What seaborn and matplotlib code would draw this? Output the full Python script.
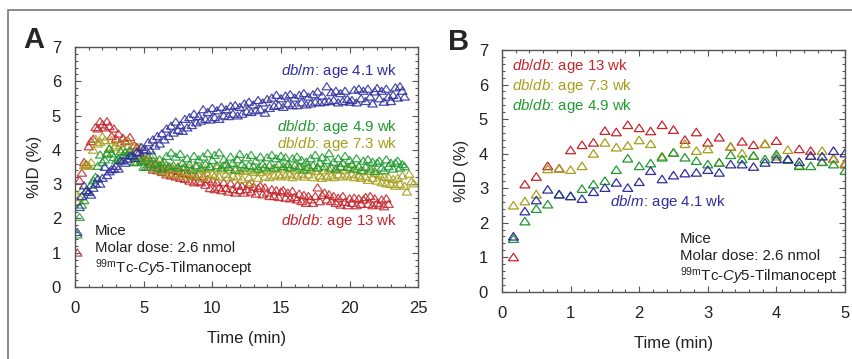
"""
Cinética de %ID do 99mTc-Cy5-Tilmanocept em camundongos db/db e db/m
"""

import numpy as np
import pandas as pd
import matplotlib

matplotlib.use("Agg")
import matplotlib.pyplot as plt
import seaborn as sns
from matplotlib.patches import Rectangle
from matplotlib.ticker import MultipleLocator

# intervalo entre quadros da aquisição dinâmica (s)
FRAME_SEC = 10

GRUPOS = ["db/db 13 wk", "db/db 7.3 wk", "db/db 4.9 wk", "db/m 4.1 wk"]
CORES = {
    "db/db 13 wk": "#c4262c",
    "db/db 7.3 wk": "#a59f1c",
    "db/db 4.9 wk": "#1f9a30",
    "db/m 4.1 wk": "#2e2e9e",
}

# primeiros 5 min (painel B e início do painel A)
red_13wk_early = [
    1.00, 3.11, 3.33, 3.64, 3.57, 4.10, 4.25, 4.32, 4.66, 4.62,
    4.83, 4.74, 4.65, 4.83, 4.69, 4.40, 4.62, 4.32, 4.47, 4.20,
    4.35, 4.25, 4.28, 4.37, 3.84, 4.13, 4.08, 3.76, 3.86, 3.69,
]
olive_73wk_early = [
    2.50, 2.62, 2.82, 3.55, 3.57, 3.53, 3.64, 4.00, 4.32, 4.18,
    4.23, 4.39, 4.28, 3.92, 4.03, 4.28, 4.08, 4.13, 3.74, 4.20,
    4.01, 3.94, 4.28, 3.92, 4.11, 3.66, 3.94, 4.08, 3.84, 3.72,
]
green_49wk_early = [
    1.53, 2.04, 2.40, 2.53, 2.82, 2.77, 2.98, 3.11, 3.21, 3.53,
    3.86, 3.64, 3.72, 3.89, 4.03, 3.89, 3.79, 3.69, 3.74, 3.96,
    3.84, 3.94, 3.84, 3.98, 3.82, 3.64, 3.64, 3.76, 3.69, 3.50,
]
blue_dbm_early = [
    1.60, 2.33, 2.65, 2.96, 2.82, 2.77, 2.69, 2.89, 3.01, 3.16,
    3.01, 3.18, 3.50, 3.26, 3.37, 3.43, 3.45, 3.53, 3.45, 3.69,
    3.69, 3.62, 3.74, 3.84, 3.84, 3.76, 3.94, 3.92, 4.08, 4.01,
]

# de 5 min em diante (só painel A), uma linha por minuto
red_13wk_late = [
    3.70, 3.50, 3.65, 3.42, 3.60, 3.40,
    3.55, 3.35, 3.48, 3.28, 3.45, 3.25,
    3.42, 3.22, 3.38, 3.18, 3.32, 3.15,
    3.32, 3.10, 3.28, 3.05, 3.22, 3.08,
    3.05, 3.22, 2.98, 3.15, 2.88, 3.10,
    2.85, 3.05, 2.90, 2.82, 3.05, 2.88,
    2.78, 3.02, 2.85, 2.75, 2.98, 2.82,
    2.95, 2.75, 2.85, 3.00, 2.78, 2.92,
    2.72, 2.88, 2.95, 2.70, 2.90, 2.75,
    2.65, 2.85, 2.65, 2.82, 2.62, 2.78,
    2.82, 2.60, 2.75, 2.58, 2.80, 2.62,
    2.55, 2.72, 2.50, 2.68, 2.45, 2.65,
    2.55, 2.45, 2.65, 2.90, 2.50, 2.68,
    2.75, 2.55, 2.70, 2.50, 2.65, 2.45,
    2.60, 2.40, 2.65, 2.48, 2.38, 2.58,
    2.45, 2.60, 2.38, 2.58, 2.42, 2.55,
    2.62, 2.42, 2.65, 2.38, 2.58, 2.45,
    2.40, 2.55, 2.35, 2.58, 2.42,
]
olive_73wk_late = [
    3.75, 3.58, 3.50, 3.72, 3.45, 3.62,
    3.42, 3.60, 3.38, 3.55, 3.32, 3.50,
    3.45, 3.30, 3.52, 3.28, 3.48, 3.35,
    3.25, 3.48, 3.32, 3.22, 3.50, 3.28,
    3.42, 3.20, 3.45, 3.28, 3.50, 3.30,
    3.25, 3.48, 3.22, 3.42, 3.55, 3.30,
    3.20, 3.42, 3.25, 3.48, 3.22, 3.40,
    3.15, 3.38, 3.42, 3.20, 3.05, 3.35,
    3.40, 3.18, 3.35, 3.45, 3.22, 3.40,
    3.20, 3.45, 3.25, 3.48, 3.28, 3.22,
    3.45, 3.25, 3.50, 3.30, 3.20, 3.42,
    3.25, 3.48, 3.30, 3.22, 3.45, 3.28,
    3.42, 3.20, 3.38, 3.50, 3.25, 3.18,
    3.40, 3.22, 3.45, 3.25, 3.20, 3.42,
    3.28, 3.50, 3.22, 3.42, 3.25, 3.48,
    3.30, 3.20, 3.45, 3.25, 3.18, 3.40,
    3.22, 3.12, 3.38, 3.18, 3.32, 3.10,
    3.28, 3.05, 3.22, 3.02, 3.20, 3.00,
    3.15, 2.95, 3.18, 3.00, 3.25, 2.95,
    2.78, 3.30, 3.08, 3.02,
]
green_49wk_late = [
    3.50, 3.78, 3.58, 3.85, 3.60, 3.48,
    3.72, 3.45, 3.65, 3.82, 3.52, 3.92,
    3.55, 3.80, 3.48, 3.88, 3.62, 3.50,
    3.75, 3.58, 3.42, 3.82, 3.55, 3.72,
    3.48, 3.80, 3.58, 3.90, 3.52, 3.70,
    3.85, 3.55, 3.92, 3.48, 3.72, 3.58,
    3.50, 3.80, 3.62, 3.42, 3.72, 3.88,
    3.58, 3.48, 3.78, 3.55, 3.85, 3.52,
    3.68, 3.45, 3.80, 3.58, 3.50, 3.78,
    3.55, 3.85, 3.48, 3.75, 3.58, 3.82,
    3.52, 3.78, 3.58, 3.48, 3.75, 3.55,
    3.80, 3.52, 3.70, 3.42, 3.65, 3.50,
    3.75, 3.55, 3.85, 3.48, 3.62, 3.78,
    3.52, 3.70, 3.90, 3.48, 3.65, 3.45,
    3.75, 3.52, 3.62, 3.82, 3.50, 3.70,
    3.58, 3.45, 3.75, 3.52, 3.40, 3.68,
    3.50, 3.72, 3.45, 3.65, 3.38, 3.62,
    3.68, 3.48, 3.40, 3.72, 3.52, 3.62,
    3.45, 3.62, 3.68, 3.48, 3.58, 3.52,
]
blue_dbm_late = [
    4.00, 4.22, 3.98, 4.30, 4.12, 4.40,
    4.18, 4.48, 4.30, 4.62, 4.40, 4.70,
    4.50, 4.82, 4.58, 4.72, 4.55, 4.90,
    4.65, 4.95, 4.72, 5.05, 4.80, 4.98,
    4.85, 5.18, 4.90, 5.10, 4.88, 5.22,
    4.95, 5.15, 4.90, 5.25, 5.00, 5.18,
    4.98, 5.28, 5.05, 5.30, 5.00, 5.25,
    5.05, 5.35, 5.12, 5.40, 5.10, 5.32,
    5.15, 5.45, 5.18, 5.38, 5.08, 5.48,
    5.22, 5.52, 5.28, 5.60, 5.30, 5.50,
    5.25, 5.58, 5.35, 5.62, 5.30, 5.52,
    5.30, 5.60, 5.38, 5.65, 5.32, 5.55,
    5.35, 5.62, 5.40, 5.70, 5.38, 5.58,
    5.40, 5.85, 5.42, 5.68, 5.45, 5.72,
    5.38, 5.65, 5.42, 5.72, 5.48, 5.40,
    5.45, 5.75, 5.38, 5.78, 5.50, 5.72,
    5.42, 5.78, 5.55, 5.35, 5.70, 5.80,
    5.50, 5.72, 5.40, 5.78, 5.55, 5.42,
    5.60, 5.82, 5.52, 5.85, 5.72, 5.55,
]

SERIES_B = {
    "db/db 13 wk": red_13wk_early,
    "db/db 7.3 wk": olive_73wk_early,
    "db/db 4.9 wk": green_49wk_early,
    "db/m 4.1 wk": blue_dbm_early,
}
SERIES_A = {
    "db/db 13 wk": red_13wk_early + red_13wk_late,
    "db/db 7.3 wk": olive_73wk_early + olive_73wk_late,
    "db/db 4.9 wk": green_49wk_early + green_49wk_late,
    "db/m 4.1 wk": blue_dbm_early + blue_dbm_late,
}


def monta_df(series):
    partes = []
    for grupo in GRUPOS:
        vals = series[grupo]
        tempo = np.arange(1, len(vals) + 1) * FRAME_SEC / 60.0
        partes.append(pd.DataFrame({"tempo": tempo, "pid": vals, "grupo": grupo}))
    return pd.concat(partes, ignore_index=True)


sns.set_style("ticks")
plt.rcParams["font.family"] = ["Liberation Sans", "DejaVu Sans"]
plt.rcParams["mathtext.fontset"] = "custom"
plt.rcParams["mathtext.rm"] = "Liberation Sans"
plt.rcParams["mathtext.it"] = "Liberation Sans:italic"
plt.rcParams["mathtext.bf"] = "Liberation Sans:bold"

TXT = "#222222"
SPINE = "#555555"
# triângulo aberto mais largo do que alto
TRI = [(-1, -0.72), (1, -0.72), (0, 0.78), (-1, -0.72)]

fig = plt.figure(figsize=(8.53, 3.59), dpi=100)
ax_a = fig.add_axes([0.0879, 0.2006, 0.4025, 0.6685])
ax_b = fig.add_axes([0.5885, 0.1875, 0.4021, 0.6733])


def desenha(ax, df, s, alpha):
    sns.scatterplot(
        data=df, x="tempo", y="pid", hue="grupo", hue_order=GRUPOS,
        palette=CORES, marker=TRI, s=s, linewidth=0.9, legend=False, ax=ax,
    )
    for coll in ax.collections:
        fc = coll.get_facecolor()
        coll.set_edgecolor(fc)
        coll.set_facecolor("none")
        coll.set_alpha(alpha)


def estilo(ax, xmax, xmaj, xmin):
    ax.set_xlim(0, xmax)
    ax.set_ylim(0, 7)
    ax.xaxis.set_major_locator(MultipleLocator(xmaj))
    ax.xaxis.set_minor_locator(MultipleLocator(xmin))
    ax.yaxis.set_major_locator(MultipleLocator(1))
    ax.yaxis.set_minor_locator(MultipleLocator(0.2))
    ax.tick_params(which="both", direction="in", top=True, right=True,
                   color=SPINE, width=0.8)
    ax.tick_params(which="major", length=4, labelsize=12, labelcolor=TXT, pad=10)
    ax.tick_params(which="minor", length=2)
    for sp in ax.spines.values():
        sp.set_color(SPINE)
        sp.set_linewidth(1.0)
    ax.set_xlabel("Time (min)", fontsize=12, color=TXT, labelpad=11)
    ax.set_ylabel("%ID (%)", fontsize=12, color=TXT, labelpad=7)


# Painel A: 0-25 min
desenha(ax_a, monta_df(SERIES_A), 46, 0.85)
estilo(ax_a, 25, 5, 1)
kw = dict(fontsize=10.8, ha="right", va="center")
ax_a.text(23.5, 6.3, r"$\mathit{db/m}$: age 4.1 wk", color=CORES["db/m 4.1 wk"], **kw)
ax_a.text(23.5, 4.66, r"$\mathit{db/db}$: age 4.9 wk", color=CORES["db/db 4.9 wk"], **kw)
ax_a.text(23.5, 4.17, r"$\mathit{db/db}$: age 7.3 wk", color=CORES["db/db 7.3 wk"], **kw)
ax_a.text(23.5, 1.93, r"$\mathit{db/db}$: age 13 wk", color=CORES["db/db 13 wk"], **kw)
kw = dict(fontsize=10.8, ha="left", va="center", color=TXT)
ax_a.text(1.46, 1.64, "Mice", **kw)
ax_a.text(1.46, 1.13, "Molar dose: 2.6 nmol", **kw)
ax_a.text(1.46, 0.56, r"$^{\mathrm{99m}}$Tc-$\mathit{Cy5}$-Tilmanocept", **kw)

# Painel B: primeiros 5 min
desenha(ax_b, monta_df(SERIES_B), 52, 1.0)
estilo(ax_b, 5, 1, 0.2)
kw = dict(fontsize=10.8, ha="left", va="center")
ax_b.text(0.15, 6.53, r"$\mathit{db/db}$: age 13 wk", color=CORES["db/db 13 wk"], **kw)
ax_b.text(0.15, 5.95, r"$\mathit{db/db}$: age 7.3 wk", color=CORES["db/db 7.3 wk"], **kw)
ax_b.text(0.15, 5.39, r"$\mathit{db/db}$: age 4.9 wk", color=CORES["db/db 4.9 wk"], **kw)
ax_b.text(1.58, 2.6, r"$\mathit{db/m}$: age 4.1 wk", color=CORES["db/m 4.1 wk"], **kw)
kw = dict(fontsize=10.8, ha="left", va="center", color=TXT)
ax_b.text(2.59, 1.53, "Mice", **kw)
ax_b.text(2.59, 1.03, "Molar dose: 2.6 nmol", **kw)
ax_b.text(2.59, 0.45, r"$^{\mathrm{99m}}$Tc-$\mathit{Cy5}$-Tilmanocept", **kw)

# letras dos painéis e moldura
fig.text(23 / 853, 1 - 40 / 359, "A", fontsize=21, fontweight="bold", va="center", ha="left")
fig.text(448 / 853, 1 - 42 / 359, "B", fontsize=21, fontweight="bold", va="center", ha="left")
fig.patches.append(
    Rectangle((8 / 853, -0.2), 1.2, 1.2 - 10 / 359, transform=fig.transFigure,
              fill=False, edgecolor="#777777", linewidth=1.2, clip_on=False)
)

plt.savefig("out.png", dpi=100)
